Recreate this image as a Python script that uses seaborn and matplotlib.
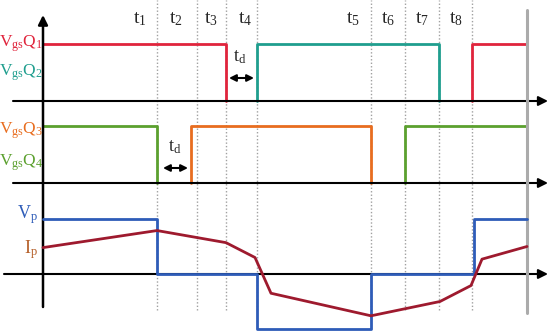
import numpy as np
import pandas as pd
import matplotlib
matplotlib.use("Agg")
import matplotlib.pyplot as plt
import seaborn as sns

sns.set_theme(style="white")
plt.rcParams['font.family'] = ['Liberation Serif', 'DejaVu Serif']
plt.rcParams['mathtext.fontset'] = 'custom'
plt.rcParams['mathtext.rm'] = 'Liberation Serif'
plt.rcParams['mathtext.it'] = 'Liberation Serif:italic'

# ---- data (time in schematic units, levels normalised) ----
event_times = [114, 154, 183, 214, 328, 362, 396, 429]      # ends of t1..t8
period_end = 484
t_labels = ["t_1", "t_2", "t_3", "t_4", "t_5", "t_6", "t_7", "t_8"]
t_label_pos = [97, 133, 168, 202, 310, 345, 379, 413]

q1_high = [(0, 183), (429, 484)]
q2_high = [(214, 396)]
q3_high = [(148, 328)]
q4_high = [(0, 114), (362, 484)]

vp_t = [0, 114, 214, 328, 431, 484]
vp_v = [1, 0, -1, 0, 1, 1]

ip_t = [0, 114, 183, 212, 228, 328, 397, 428, 439, 484]
ip_v = [0.48, 0.79, 0.57, 0.30, -0.35, -0.76, -0.50, -0.21, 0.27, 0.50]

# ---- layout ----
base_top, base_mid, base_bot = 235, 153, 62
amp_gate, amp_bot = 57, 55
c_q1, c_q2, c_q3, c_q4 = '#e0243c', '#1f9e8e', '#e86d1f', '#5ba02e'
c_vp, c_ip, c_ipl = '#2e5cb8', '#9e1a2e', '#b5602a'

fig = plt.figure(figsize=(5.5, 3.36), dpi=100)
ax = fig.add_axes([0, 0, 1, 1])
ax.set_xlim(-43, 507)
ax.set_ylim(0, 336)
ax.axis('off')

# dotted time markers
for t in event_times:
    ax.plot([t, t], [26, 336], color='#a0a0a0', ls=(0, (1, 1.5)), lw=1.0, zorder=1)
ax.plot([period_end, period_end], [23, 326], color='#ababab', lw=2.2, zorder=4)

def gate_df(highs, base):
    rows = []
    for k, (a, b) in enumerate(highs):
        pts = []
        if a > 0:
            pts.append((a, 0))
        pts += [(a, 1), (b, 1)]
        if b < period_end:
            pts.append((b, 0))
        for x, lv in pts:
            rows.append((x, base + amp_gate * lv, k))
    return pd.DataFrame(rows, columns=['x', 'y', 'seg'])

for highs, base, col in [(q1_high, base_top, c_q1), (q2_high, base_top, c_q2),
                         (q3_high, base_mid, c_q3), (q4_high, base_mid, c_q4)]:
    d = gate_df(highs, base)
    sns.lineplot(data=d, x='x', y='y', units='seg', estimator=None, sort=False,
                 color=col, lw=2, ax=ax, zorder=2, legend=False)

# axes lines
for base, x0 in [(base_top, -30), (base_mid, -30), (base_bot, -39)]:
    ax.annotate('', xy=(505, base), xytext=(x0, base),
                arrowprops=dict(arrowstyle='-|>', color='black', lw=1.5,
                                mutation_scale=14, shrinkA=0, shrinkB=0), zorder=3)
ax.annotate('', xy=(0, 321), xytext=(0, 29),
            arrowprops=dict(arrowstyle='-|>', color='black', lw=1.8,
                            mutation_scale=14, shrinkA=0, shrinkB=0), zorder=3)

# bottom panel
dvp = pd.DataFrame({'x': vp_t, 'y': [base_bot + amp_bot * v for v in vp_v]})
sns.lineplot(data=dvp, x='x', y='y', sort=False, estimator=None, color=c_vp,
             lw=2, drawstyle='steps-post', ax=ax, zorder=5, legend=False)
dip = pd.DataFrame({'x': ip_t, 'y': [base_bot + amp_bot * v for v in ip_v]})
sns.lineplot(data=dip, x='x', y='y', sort=False, estimator=None, color=c_ip,
             lw=2, ax=ax, zorder=6, legend=False)

# td arrows
for (xa, xb, y) in [(186, 211, 258), (120, 145, 168)]:
    ax.annotate('', xy=(xb, y), xytext=(xa, y),
                arrowprops=dict(arrowstyle='<|-|>', color='black', lw=1.5,
                                mutation_scale=10, shrinkA=0, shrinkB=0), zorder=6)
ax.text(197, 279, r'$\mathrm{t_d}$', fontsize=13, ha='center', va='center')
ax.text(132, 189, r'$\mathrm{t_d}$', fontsize=13, ha='center', va='center')

# time labels
for lab, x in zip(t_labels, t_label_pos):
    ax.text(x, 317, r'$\mathrm{%s}$' % lab, fontsize=14, ha='center', va='center')

# signal labels
ax.text(0, 292, r'$\mathrm{V_{gs}Q_1}$', color=c_q1, fontsize=12.5, ha='right', va='center')
ax.text(0, 263, r'$\mathrm{V_{gs}Q_2}$', color=c_q2, fontsize=12.5, ha='right', va='center')
ax.text(0, 205, r'$\mathrm{V_{gs}Q_3}$', color=c_q3, fontsize=12.5, ha='right', va='center')
ax.text(0, 173, r'$\mathrm{V_{gs}Q_4}$', color=c_q4, fontsize=12.5, ha='right', va='center')
ax.text(-5, 121, r'$\mathrm{V_p}$', color=c_vp, fontsize=13, ha='right', va='center')
ax.text(-5, 86, r'$\mathrm{I_p}$', color=c_ipl, fontsize=13, ha='right', va='center')

fig.savefig('out.png', dpi=100)
